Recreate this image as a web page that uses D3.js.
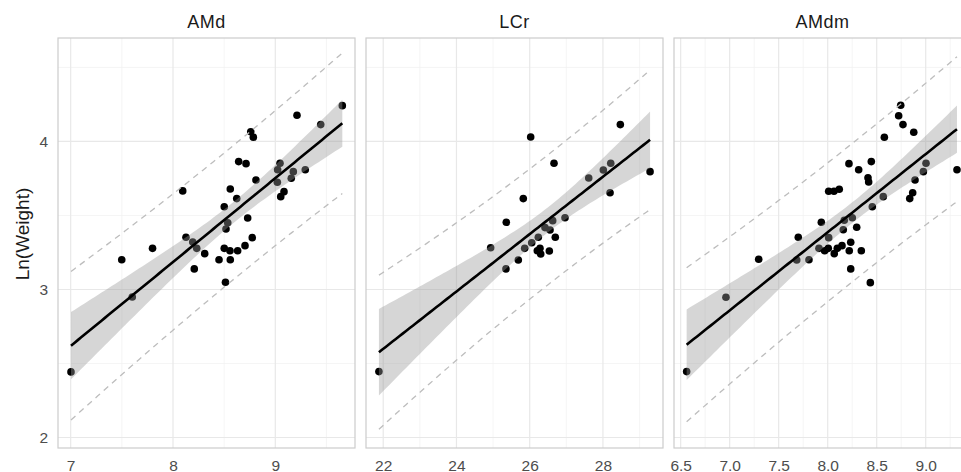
<!DOCTYPE html>
<html>
<head>
<meta charset="utf-8">
<script src="https://cdn.jsdelivr.net/npm/d3@7"></script>
<style>
  html, body { margin: 0; padding: 0; background: #fff; overflow: hidden; }
  svg { display: block; font-family: "Liberation Sans", Arial, Helvetica, sans-serif; }
</style>
</head>
<body>
<svg id="chart" width="961" height="472"></svg>
<script>
// ---------- data ----------
const panelNames = ["AMd", "LCr", "AMdm"];

const amdX = [9.655,9.212,9.444,8.760,8.785,8.642,8.714,9.046,9.023,9.176,9.293,8.811,9.020,9.156,8.095,8.560,8.623,9.085,9.053,8.501,8.730,8.535,8.518,8.127,8.775,8.193,8.232,7.800,8.501,8.557,8.632,8.704,8.310,8.450,8.560,8.208,8.513,7.499,7.602,7.003];
const amdY = [4.242,4.177,4.114,4.066,4.028,3.864,3.850,3.853,3.809,3.796,3.809,3.740,3.724,3.751,3.666,3.679,3.614,3.661,3.627,3.559,3.483,3.451,3.409,3.353,3.350,3.321,3.278,3.278,3.278,3.262,3.262,3.296,3.242,3.201,3.201,3.139,3.049,3.201,2.949,2.443];

const lcrX = [28.475,26.027,26.664,29.287,28.213,28.011,27.612,28.194,25.825,25.361,26.964,26.628,26.418,26.555,26.699,26.235,26.055,25.863,24.934,26.281,26.208,26.301,26.536,25.689,25.352,21.883];
const lcrY = [4.114,4.030,3.853,3.796,3.853,3.807,3.753,3.654,3.614,3.454,3.485,3.465,3.418,3.402,3.353,3.353,3.316,3.278,3.282,3.278,3.262,3.240,3.260,3.199,3.139,2.445];

const amdmX = [8.745,8.724,8.768,8.878,8.578,8.217,8.445,8.316,8.411,8.418,9.319,9.003,8.976,8.891,8.867,8.837,8.010,8.064,8.118,8.567,8.455,7.935,8.169,8.251,8.159,8.296,7.700,8.010,8.235,7.911,7.969,8.006,8.067,8.098,8.146,8.220,8.343,7.684,7.809,8.235,8.435,6.561,6.962,7.296];
const amdmY = [4.245,4.174,4.114,4.062,4.028,3.850,3.864,3.809,3.755,3.726,3.809,3.853,3.796,3.740,3.654,3.614,3.664,3.664,3.677,3.627,3.559,3.454,3.468,3.485,3.404,3.420,3.353,3.350,3.319,3.278,3.262,3.278,3.242,3.278,3.296,3.262,3.262,3.199,3.201,3.139,3.046,2.445,2.947,3.204];

// axis domains and tick values
const amdDomain = [6.876, 9.779];
const lcrDomain = [21.53, 29.64];
const amdmDomain = [6.432, 9.462];
const yDomain = [1.929, 4.699];

const amdTicks = [7, 8, 9];
const amdMinor = [7.5, 8.5, 9.5];
const lcrTicks = [22, 24, 26, 28];
const lcrMinor = [23, 25, 27, 29];
const amdmTicks = [6.5, 7.0, 7.5, 8.0, 8.5, 9.0];
const amdmMinor = [6.75, 7.25, 7.75, 8.25, 8.75, 9.25];
const yTicks = [2, 3, 4];
const yMinor = [2.5, 3.5, 4.5];
const yTitle = "Ln(Weight)";

// ---------- helpers ----------
function tQuantile975(df) {
  const z = 1.959964;
  const z3 = z*z*z, z5 = z3*z*z, z7 = z5*z*z;
  return z + (z3 + z)/(4*df) + (5*z5 + 16*z3 + 3*z)/(96*df*df)
           + (3*z7 + 19*z5 + 17*z3 - 15*z)/(384*df*df*df);
}
function fitLm(xs, ys) {
  const n = xs.length;
  const mx = d3.mean(xs), my = d3.mean(ys);
  let sxx = 0, sxy = 0;
  for (let i = 0; i < n; i++) { sxx += (xs[i]-mx)**2; sxy += (xs[i]-mx)*(ys[i]-my); }
  const b = sxy / sxx, a = my - b*mx;
  let sse = 0;
  for (let i = 0; i < n; i++) sse += (ys[i] - a - b*xs[i])**2;
  const s2 = sse / (n - 2);
  const t = tQuantile975(n - 2);
  const [x0, x1] = d3.extent(xs);
  const grid = d3.range(0, 81).map(k => x0 + (x1 - x0) * k / 80);
  return grid.map(x => {
    const fit = a + b*x;
    const seFit = Math.sqrt(s2 * (1/n + (x-mx)**2/sxx));
    const sePred = Math.sqrt(s2 + seFit*seFit);
    return { x, fit, lo: fit - t*seFit, hi: fit + t*seFit, plo: fit - t*sePred, phi: fit + t*sePred };
  });
}

// ---------- layout ----------
const svg = d3.select("#chart");
const pTop = 38, pBottom = 448;
const panelLeft = [58, 366, 674];
const panelW = 297;

const panels = [
  { name: panelNames[0], xs: amdX, ys: amdY, domain: amdDomain, ticks: amdTicks, minor: amdMinor, fmt: d3.format("d") },
  { name: panelNames[1], xs: lcrX, ys: lcrY, domain: lcrDomain, ticks: lcrTicks, minor: lcrMinor, fmt: d3.format("d") },
  { name: panelNames[2], xs: amdmX, ys: amdmY, domain: amdmDomain, ticks: amdmTicks, minor: amdmMinor, fmt: d3.format(".1f") }
];

const y = d3.scaleLinear().domain(yDomain).range([pBottom, pTop]);

panels.forEach((p, i) => {
  const left = panelLeft[i], right = left + panelW;
  const x = d3.scaleLinear().domain(p.domain).range([left, right]);
  const g = svg.append("g");

  const cid = "clipP" + i;
  svg.append("clipPath").attr("id", cid)
    .append("rect").attr("x", left).attr("y", pTop).attr("width", panelW).attr("height", pBottom - pTop);

  const inner = g.append("g").attr("clip-path", `url(#${cid})`);

  // minor grid
  inner.selectAll(".vmin").data(p.minor).enter().append("line")
    .attr("x1", d => x(d)).attr("x2", d => x(d)).attr("y1", pTop).attr("y2", pBottom)
    .attr("stroke", "#f0f0f0").attr("stroke-width", 0.7);
  inner.selectAll(".hmin").data(yMinor).enter().append("line")
    .attr("x1", left).attr("x2", right).attr("y1", d => y(d)).attr("y2", d => y(d))
    .attr("stroke", "#f0f0f0").attr("stroke-width", 0.7);
  // major grid
  inner.selectAll(".vmaj").data(p.ticks).enter().append("line")
    .attr("x1", d => x(d)).attr("x2", d => x(d)).attr("y1", pTop).attr("y2", pBottom)
    .attr("stroke", "#e8e8e8").attr("stroke-width", 1.2);
  inner.selectAll(".hmaj").data(yTicks).enter().append("line")
    .attr("x1", left).attr("x2", right).attr("y1", d => y(d)).attr("y2", d => y(d))
    .attr("stroke", "#e8e8e8").attr("stroke-width", 1.2);

  const fit = fitLm(p.xs, p.ys);

  // points
  inner.selectAll(".pt").data(p.xs.map((v, k) => [v, p.ys[k]])).enter().append("circle")
    .attr("cx", d => x(d[0])).attr("cy", d => y(d[1])).attr("r", 3.8).attr("fill", "#000");

  // confidence ribbon
  inner.append("path").datum(fit)
    .attr("d", d3.area().x(d => x(d.x)).y0(d => y(d.lo)).y1(d => y(d.hi)))
    .attr("fill", "#999999").attr("fill-opacity", 0.4);

  // fit line
  inner.append("path").datum(fit)
    .attr("d", d3.line().x(d => x(d.x)).y(d => y(d.fit)))
    .attr("fill", "none").attr("stroke", "#000").attr("stroke-width", 2.6);

  // prediction lines
  ["plo", "phi"].forEach(k => {
    inner.append("path").datum(fit)
      .attr("d", d3.line().x(d => x(d.x)).y(d => y(d[k])))
      .attr("fill", "none").attr("stroke", "#bdbdbd").attr("stroke-width", 1.3)
      .attr("stroke-dasharray", "6,5");
  });

  // panel border
  g.append("rect").attr("x", left).attr("y", pTop).attr("width", panelW).attr("height", pBottom - pTop)
    .attr("fill", "none").attr("stroke", "#cccccc").attr("stroke-width", 1.2);

  // strip title
  g.append("text").attr("x", (left + right) / 2).attr("y", 27.5)
    .attr("text-anchor", "middle").attr("font-size", 18).attr("fill", "#1a1a1a")
    .attr("letter-spacing", 0.5)
    .text(p.name);

  // x axis labels
  const xAxis = d3.axisBottom(x).tickValues(p.ticks).tickFormat(p.fmt).tickSize(0).tickPadding(0);
  const ax = g.append("g").attr("transform", `translate(0,${pBottom})`).call(xAxis);
  ax.select(".domain").remove();
  ax.selectAll("text").attr("font-size", 15.5).attr("fill", "#4d4d4d")
    .attr("font-family", "'Liberation Sans', Arial, sans-serif")
    .attr("dy", null).attr("y", 22.5);
});

// y axis labels
const yAxis = d3.axisLeft(y).tickValues(yTicks).tickFormat(d3.format("d")).tickSize(0).tickPadding(0);
const ay = svg.append("g").attr("transform", "translate(48,0)").call(yAxis);
ay.select(".domain").remove();
ay.selectAll("text").attr("font-size", 15.5).attr("fill", "#4d4d4d")
  .attr("font-family", "'Liberation Sans', Arial, sans-serif");

// y title
svg.append("text")
  .attr("transform", "translate(29,234) rotate(-90)")
  .attr("text-anchor", "middle").attr("font-size", 19).attr("fill", "#1a1a1a")
  .text(yTitle);
</script>
</body>
</html>
